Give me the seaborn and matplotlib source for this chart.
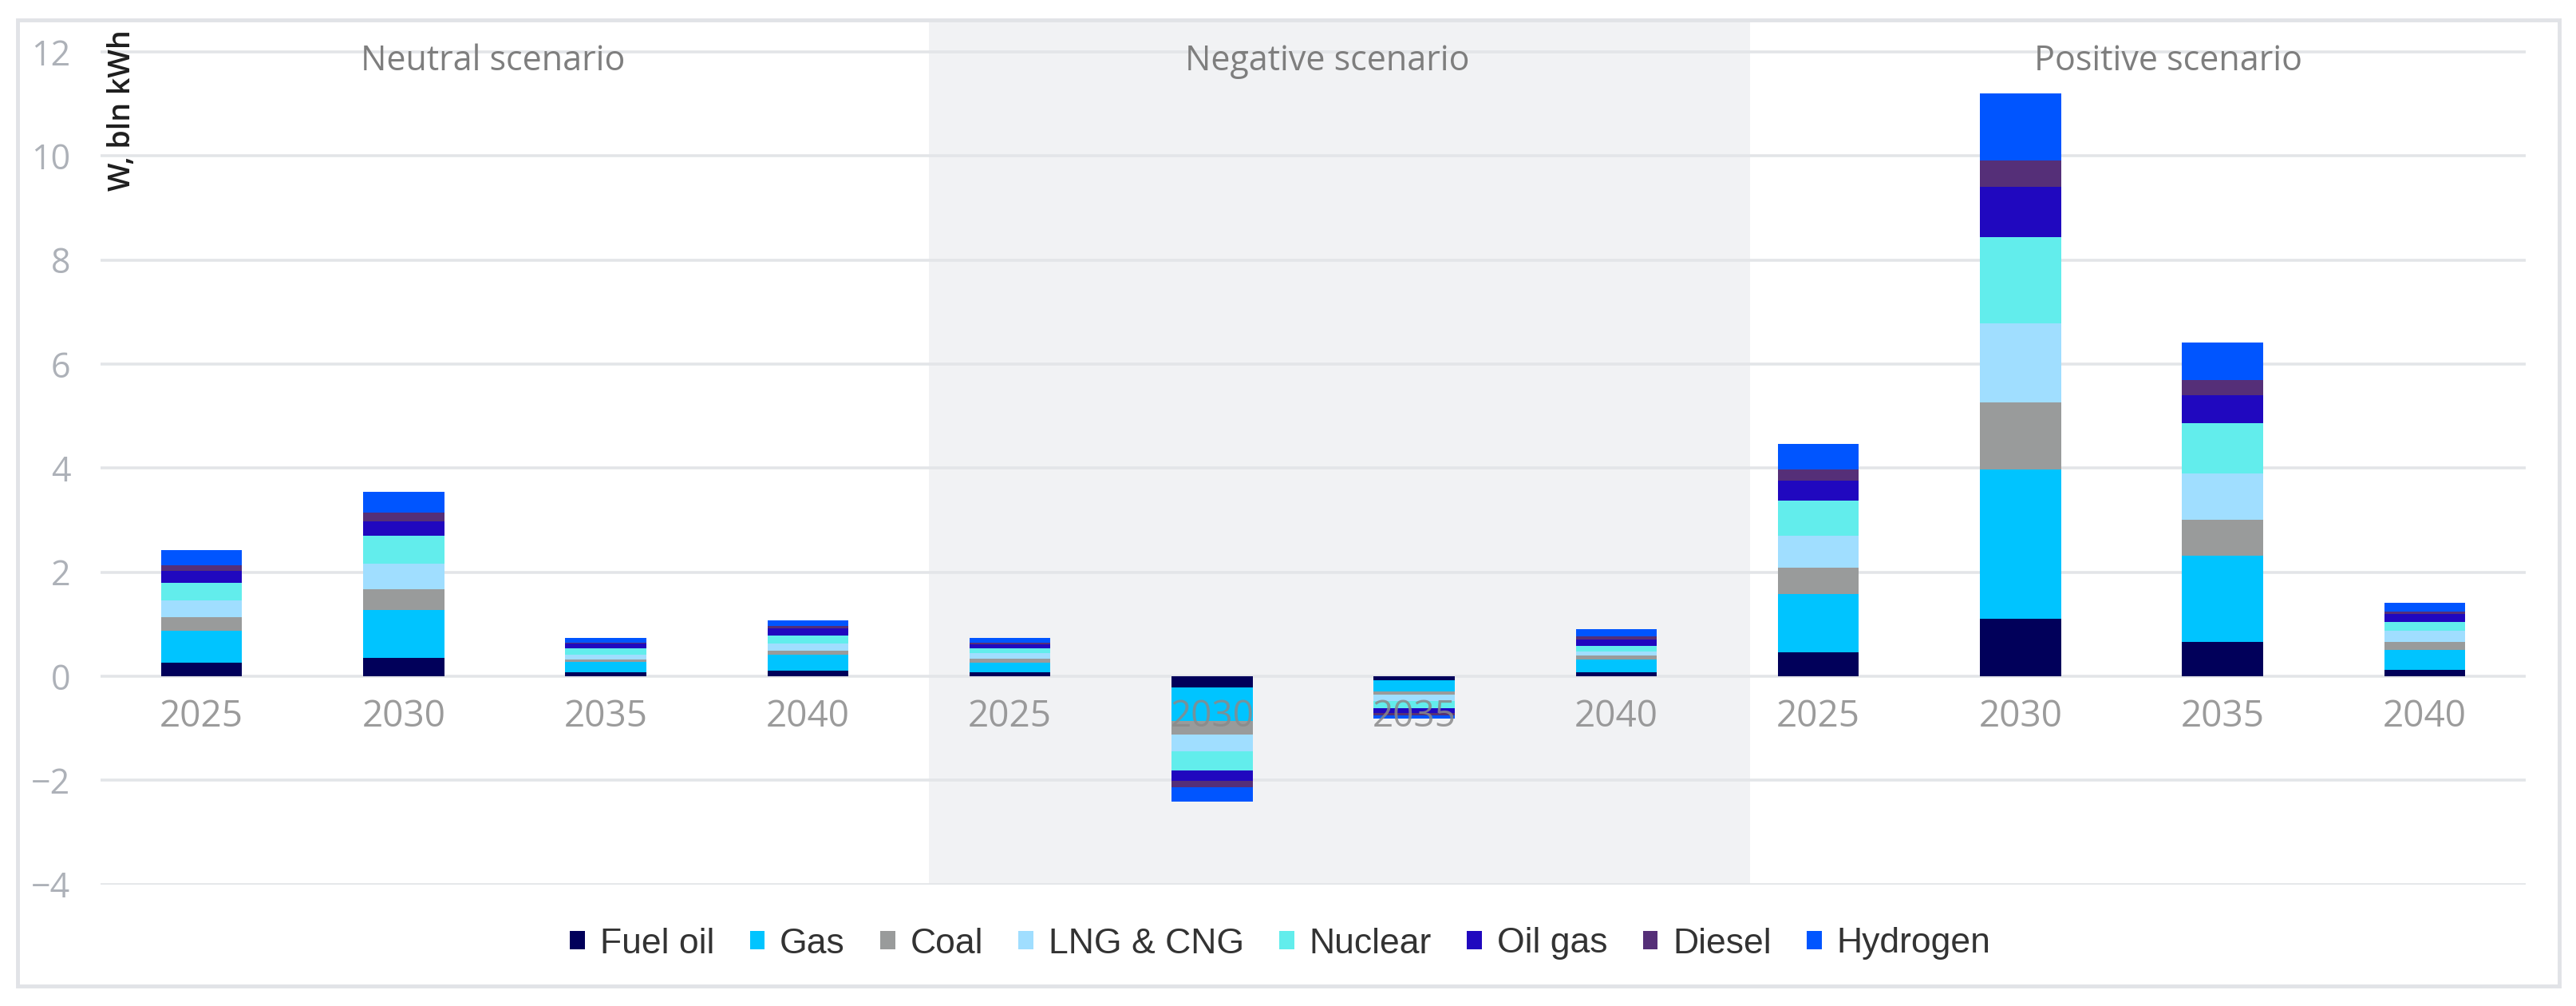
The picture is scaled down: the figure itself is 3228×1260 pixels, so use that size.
import matplotlib
matplotlib.use("Agg")
import matplotlib.pyplot as plt
from matplotlib.patches import Patch, Rectangle
import numpy as np
import pandas as pd
import seaborn as sns

# ---------------- data ----------------
scenarios = ["Neutral"] * 4 + ["Negative"] * 4 + ["Positive"] * 4
years = ["2025", "2030", "2035", "2040"] * 3
scenario_titles = ["Neutral scenario", "Negative scenario", "Positive scenario"]

fuel_oil = [0.26, 0.36, 0.08, 0.10, 0.08, -0.22, -0.07, 0.08, 0.46, 1.10, 0.66, 0.13]
gas      = [0.62, 0.91, 0.19, 0.31, 0.18, -0.64, -0.22, 0.24, 1.12, 2.88, 1.66, 0.38]
coal     = [0.25, 0.40, 0.05, 0.08, 0.07, -0.26, -0.07, 0.08, 0.51, 1.28, 0.69, 0.15]
lng_cng  = [0.32, 0.49, 0.09, 0.14, 0.11, -0.33, -0.12, 0.08, 0.61, 1.52, 0.88, 0.21]
nuclear  = [0.35, 0.54, 0.12, 0.15, 0.10, -0.36, -0.13, 0.10, 0.68, 1.66, 0.97, 0.18]
oil_gas  = [0.23, 0.28, 0.10, 0.14, 0.08, -0.20, -0.10, 0.13, 0.38, 0.96, 0.54, 0.15]
diesel   = [0.10, 0.17, 0.02, 0.04, 0.03, -0.12, -0.04, 0.06, 0.22, 0.51, 0.29, 0.05]
hydrogen = [0.29, 0.39, 0.08, 0.12, 0.09, -0.28, -0.06, 0.13, 0.49, 1.29, 0.72, 0.16]

series_names = ["Fuel oil", "Gas", "Coal", "LNG & CNG", "Nuclear", "Oil gas", "Diesel", "Hydrogen"]
series_values = [fuel_oil, gas, coal, lng_cng, nuclear, oil_gas, diesel, hydrogen]
series_colors = ["#01005A", "#00C4FF", "#999B9B", "#A0DEFF", "#62EDEC", "#2008BF", "#552F78", "#0055FF"]

y_ticks = [-4, -2, 0, 2, 4, 6, 8, 10, 12]

# ---------------- style ----------------
sns.set_theme(style="white")
plt.rcParams["font.family"] = ["Open Sans", "DejaVu Sans"]

W, H = 3228, 1260
fig = plt.figure(figsize=(W / 100, H / 100), dpi=100)
fig.patch.set_facecolor("white")

ax_left, ax_right = 126, 3165
ax_top, ax_bottom = 27, 1107.7
ax = fig.add_axes([ax_left / W, 1 - ax_bottom / H, (ax_right - ax_left) / W, (ax_bottom - ax_top) / H])
ax.set_facecolor("white")

cats = [f"{s}\n{y}" for s, y in zip(scenarios, years)]
cum = np.cumsum(np.array(series_values), axis=0)

# draw stacked bars: cumulative totals, topmost series first
for k in range(len(series_names) - 1, -1, -1):
    sns.barplot(x=cats, y=cum[k], order=cats, color=series_colors[k], saturation=1,
                width=0.40, linewidth=0, errorbar=None, ax=ax, zorder=2)

ax.set_xlim(-0.5, 11.5)
ax.set_ylim(-4, 12.58)

# shaded negative-scenario band
ax.axvspan(3.60, 7.66, color="#F1F2F4", zorder=0, lw=0)

# grid
ax.set_yticks(y_ticks)
ax.yaxis.grid(True, color="#E3E5E8", linewidth=2.6)
ax.xaxis.grid(False)
ax.set_axisbelow(True)
ax.xaxis.set_zorder(5)

for sp in ax.spines.values():
    sp.set_visible(False)
ax.spines["bottom"].set_position(("data", 0))

ax.set_xticks(range(len(cats)))
ax.set_xticklabels(years)
ax.tick_params(axis="x", length=0, pad=20, labelsize=33, labelcolor="#8A8A8A")
for t in ax.get_xticklabels():
    t.set_alpha(0.85)
ax.tick_params(axis="y", length=0, pad=27, labelsize=31, labelcolor="#ADB1B8")
ax.set_xlabel("")
ax.set_ylabel("")

# y axis label
ax.text((153 - ax_left) / (ax_right - ax_left), (ax_bottom - 37) / (ax_bottom - ax_top),
        "W, bln kWh", transform=ax.transAxes, rotation=90, ha="center", va="top",
        fontsize=27, fontweight="semibold", color="#1E1E1E", zorder=6)

# scenario titles
for xpos, title in zip([1.44, 5.57, 9.73], scenario_titles):
    ax.text(xpos, 11.82, title, ha="center", va="center", fontsize=31,
            color="#7E7E7E", zorder=6)

# legend
handles = [Patch(facecolor=c, edgecolor="none", label=n) for n, c in zip(series_names, series_colors)]
leg = fig.legend(handles=handles, loc="center", bbox_to_anchor=(0.497, 1 - 1182 / H), ncol=8,
                 frameon=False, prop={"family": ["Liberation Sans", "DejaVu Sans"], "size": 32},
                 handlelength=0.42, handleheight=0.42, handletextpad=0.42, columnspacing=1.0,
                 labelcolor="#333333")

# outer frame
fig.patches.append(Rectangle((22 / W, 1 - 1235 / H), (3207 - 22) / W, (1235 - 25) / H,
                             transform=fig.transFigure, fill=False, edgecolor="#E1E3E7", lw=3.5))

fig.savefig("out.png", dpi=100, facecolor="white")
